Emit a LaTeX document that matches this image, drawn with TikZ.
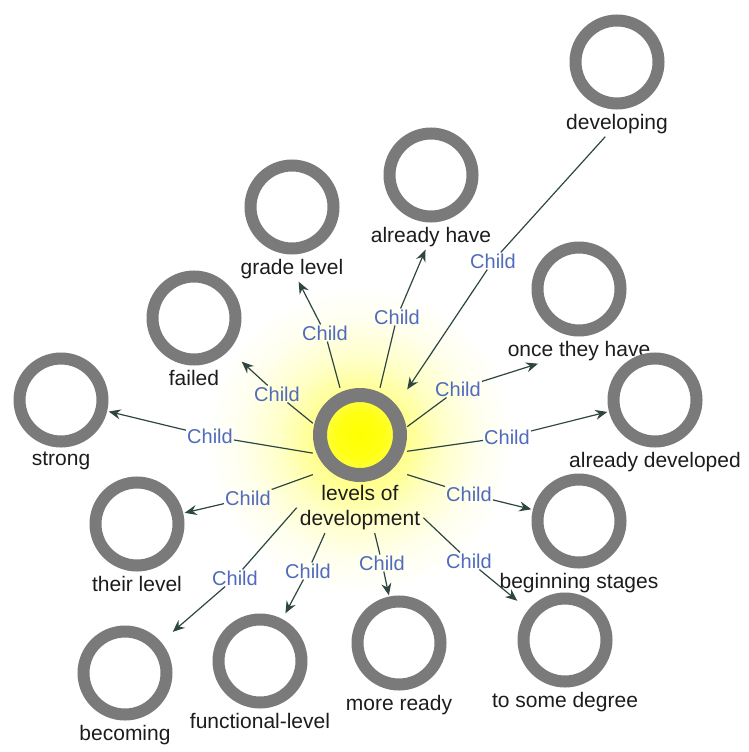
\documentclass[tikz,border=0pt]{standalone}
\usepackage{fontspec}
\setmainfont{Liberation Sans}
\usetikzlibrary{arrows.meta, positioning}
\definecolor{ringgray}{RGB}{122,122,122}
\definecolor{linkgray}{RGB}{46,70,66}
\definecolor{childblue}{RGB}{80,106,188}
\definecolor{textgray}{RGB}{28,28,28}
\pgfdeclareradialshading{sunglow}{\pgfpoint{0bp}{0bp}}{color(0bp)=(yellow!60!white); color(8bp)=(yellow!42!white); color(13bp)=(yellow!22!white); color(19bp)=(yellow!7!white); color(25bp)=(white); color(50bp)=(white)}
\pgfdeclareradialshading{sunfill}{\pgfpoint{0bp}{0bp}}{color(0bp)=(yellow); color(12bp)=(yellow!92!white); color(25bp)=(yellow!62!white); color(50bp)=(yellow!62!white)}
\tikzset{
  ring/.style={rectangle, minimum size=95pt, inner sep=0pt, path picture={\draw[ringgray, line width=12pt] (path picture bounding box.center) circle (41.5pt);}},
  hubring/.style={rectangle, minimum size=94pt, inner sep=0pt, path picture={\shade[shading=sunfill] (path picture bounding box.center) circle (34pt); \draw[ringgray, line width=14pt] (path picture bounding box.center) circle (40pt);}},
  tag/.style={font=\fontsize{21}{25}\selectfont, text=textgray, inner sep=3pt, align=center},
  rel/.style={font=\fontsize{20}{24}\selectfont, text=childblue, inner sep=1pt},
  link/.style={draw=linkgray, line width=1.2pt, -{Stealth[length=12pt, width=10pt, inset=4pt]}}
}
\begin{document}
\begin{tikzpicture}[x=1pt, y=-1pt]
  \useasboundingbox (0,0) rectangle (749,752);
  \shade[shading=sunglow] (360,440) circle (155);
  \node[hubring] (hub) at (360,435) {};
  \node[tag, below=0pt of hub] (t-hub) {levels of\\development};
  \node[ring] (strong) at (61,400) {};
  \node[tag, below=1pt of strong] (t-strong) {strong};
  \node[ring] (failed) at (194,318) {};
  \node[tag, below=1pt of failed] (t-failed) {failed};
  \node[ring] (grade) at (292,207) {};
  \node[tag, below=1pt of grade] (t-grade) {grade level};
  \node[ring] (have) at (431,175) {};
  \node[tag, below=1pt of have] (t-have) {already have};
  \node[ring] (developing) at (617,62) {};
  \node[tag, below=1pt of developing] (t-developing) {developing};
  \node[ring] (once) at (579,289) {};
  \node[tag, below=1pt of once] (t-once) {once they have};
  \node[ring] (developed) at (655,400) {};
  \node[tag, below=1pt of developed] (t-developed) {already developed};
  \node[ring] (beginning) at (579,521) {};
  \node[tag, below=1pt of beginning] (t-beginning) {beginning stages};
  \node[ring] (degree) at (565,640) {};
  \node[tag, below=1pt of degree] (t-degree) {to some degree};
  \node[ring] (ready) at (399,643) {};
  \node[tag, below=1pt of ready] (t-ready) {more ready};
  \node[ring] (functional) at (260,661) {};
  \node[tag, below=1pt of functional] (t-functional) {functional-level};
  \node[ring] (becoming) at (125,673) {};
  \node[tag, below=1pt of becoming] (t-becoming) {becoming};
  \node[ring] (their) at (137,524) {};
  \node[tag, below=1pt of their] (t-their) {their level};
  \node[rel] (c-strong) at (210,436) {Child};
  \node[rel] (c-failed) at (277,394) {Child};
  \node[rel] (c-grade) at (325,333) {Child};
  \node[rel] (c-have) at (397,317) {Child};
  \node[rel] (c-developing) at (493,261) {Child};
  \node[rel] (c-once) at (458,389) {Child};
  \node[rel] (c-developed) at (507,437) {Child};
  \node[rel] (c-beginning) at (469,494) {Child};
  \node[rel] (c-degree) at (469,561) {Child};
  \node[rel] (c-ready) at (382,563) {Child};
  \node[rel] (c-functional) at (308,571) {Child};
  \node[rel] (c-becoming) at (235,578) {Child};
  \node[rel] (c-their) at (248,498) {Child};
  \draw[link] (hub.-159) -- (c-strong) -- (strong);
  \draw[link] (hub.166) -- (c-failed) -- (failed);
  \draw[link] (hub.113) -- (c-grade) -- (t-grade);
  \draw[link] (hub.67) -- (c-have) -- (t-have);
  \draw[link] (t-developing) -- (c-developing) -- (hub.44);
  \draw[link] (hub.10) -- (c-once) -- (t-once);
  \draw[link] (hub.-19) -- (c-developed) -- (developed);
  \draw[link] (hub.-40) -- (c-beginning) -- (beginning);
  \draw[link] (t-hub.-9) -- (c-degree) -- (degree);
  \draw[link] (t-hub.-60) -- (c-ready) -- (ready);
  \draw[link] (t-hub.-144) -- (c-functional) -- (functional);
  \draw[link] (t-hub.west) -- (c-becoming) -- (becoming);
  \draw[link] (hub.-140) -- (c-their) -- (their);
\end{tikzpicture}
\end{document}
